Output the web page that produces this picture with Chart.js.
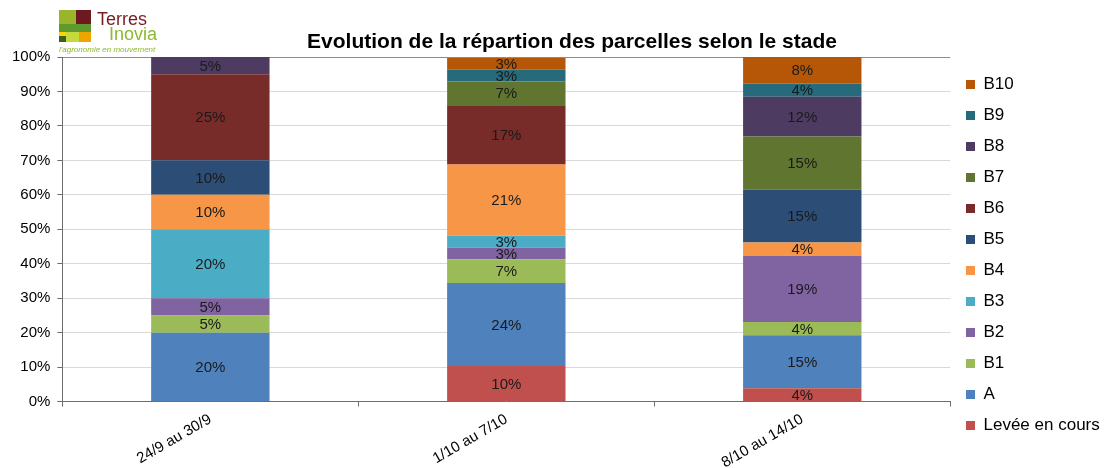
<!DOCTYPE html>
<html>
<head>
<meta charset="utf-8">
<script src="https://cdn.jsdelivr.net/npm/chart.js@4/dist/chart.umd.min.js"></script>
<style>
  body { margin: 0; background: #fff; }
  .chart { width: 1108px; height: 468px; }
</style>
</head>
<body>
<div class="chart"><canvas id="myChart" width="1108" height="468"></canvas></div>
<script>
const labels = ["24/9 au 30/9", "1/10 au 7/10", "8/10 au 14/10"];

// share of fields per stage, in %
const levee = [0, 10.3, 3.85];
const stadeA = [20, 24.1, 15.4];
const b1 = [5, 6.9, 3.85];
const b2 = [5, 3.4, 19.2];
const b3 = [20, 3.4, 0];
const b4 = [10, 20.7, 3.85];
const b5 = [10, 0, 15.4];
const b6 = [25, 17.2, 0];
const b7 = [0, 6.9, 15.4];
const b8 = [5, 0, 11.5];
const b9 = [0, 3.4, 3.85];
const b10 = [0, 3.4, 7.7];

const yTicks = [0, 10, 20, 30, 40, 50, 60, 70, 80, 90, 100];

const colors = {
    levee: "#C0504D",
    a: "#4F81BD",
    b1: "#9BBB59",
    b2: "#8064A2",
    b3: "#4BACC6",
    b4: "#F79646",
    b5: "#2C4D75",
    b6: "#772C2A",
    b7: "#5F7530",
    b8: "#4D3B62",
    b9: "#276A7C",
    b10: "#B65708"
};

const series = [
    ["Levée en cours", levee, colors.levee],
    ["A", stadeA, colors.a],
    ["B1", b1, colors.b1],
    ["B2", b2, colors.b2],
    ["B3", b3, colors.b3],
    ["B4", b4, colors.b4],
    ["B5", b5, colors.b5],
    ["B6", b6, colors.b6],
    ["B7", b7, colors.b7],
    ["B8", b8, colors.b8],
    ["B9", b9, colors.b9],
    ["B10", b10, colors.b10]
];

const FONT = "'Liberation Sans', Arial, sans-serif";

// values written in the middle of each segment
const barLabels = {
    id: "barLabels",
    afterDatasetsDraw(chart) {
        const ctx = chart.ctx;
        ctx.save();
        ctx.font = "15px " + FONT;
        ctx.fillStyle = "#1a1a1a";
        ctx.textAlign = "center";
        ctx.textBaseline = "middle";
        chart.data.datasets.forEach((ds, i) => {
            const meta = chart.getDatasetMeta(i);
            meta.data.forEach((bar, j) => {
                const v = ds.data[j];
                if (!v) return;
                const mid = (bar.y + bar.base) / 2;
                ctx.fillText(Math.round(v) + "%", bar.x, mid + 1);
            });
        });
        ctx.restore();
    }
};

// move the legend column to where the reference has it
const legendPlace = {
    id: "legendPlace",
    afterLayout(chart) {
        const lg = chart.legend;
        const dx = 966 - (lg.left + lg.options.labels.padding);
        lg.left += dx;
        lg.right += dx;
        const h = lg.bottom - lg.top;
        lg.top = 62;
        lg.bottom = lg.top + h;
    }
};

// title and logo in the top padding
const header = {
    id: "header",
    afterDraw(chart) {
        const ctx = chart.ctx;
        ctx.save();
        ctx.font = "bold 21px " + FONT;
        ctx.fillStyle = "#000";
        ctx.textAlign = "center";
        ctx.textBaseline = "middle";
        ctx.fillText("Evolution de la répartion des parcelles selon le stade", 572, 42);

        // logo blocks
        ctx.fillStyle = "#9bb52a"; ctx.fillRect(59, 10, 17, 14);
        ctx.fillStyle = "#6d1a1e"; ctx.fillRect(76, 10, 15, 14);
        ctx.fillStyle = "#5f9a2e"; ctx.fillRect(59, 24, 32, 8);
        ctx.fillStyle = "#ffd200"; ctx.fillRect(59, 32, 7, 4);
        ctx.fillStyle = "#c5d93a"; ctx.fillRect(66, 32, 13, 10);
        ctx.fillStyle = "#f0a400"; ctx.fillRect(79, 32, 12, 10);
        ctx.fillStyle = "#3e5f1e"; ctx.fillRect(59, 36, 7, 6);

        ctx.textAlign = "left";
        ctx.textBaseline = "alphabetic";
        ctx.font = "18px " + FONT;
        ctx.fillStyle = "#7a1c24";
        ctx.fillText("Terres", 97, 25);
        ctx.fillStyle = "#8db92e";
        ctx.fillText("Inovia", 109, 40);
        ctx.font = "italic 8px " + FONT;
        ctx.fillText("l'agronomie en mouvement", 59, 52);
        ctx.restore();
    }
};

const ctx = document.getElementById("myChart").getContext("2d");

const data = {
    labels: labels,
    datasets: series.map(([label, values, color]) => ({
        label: label,
        data: values,
        backgroundColor: color,
        borderWidth: 0,
        barPercentage: 0.4,
        categoryPercentage: 1.0
    }))
};

const config = {
    type: "bar",
    data: data,
    plugins: [barLabels, header, legendPlace],
    options: {
        responsive: false,
        animation: false,
        layout: { padding: { top: 57, left: 5, right: 0, bottom: 0 } },
        plugins: {
            title: { display: false },
            tooltip: { enabled: false },
            legend: {
                position: "right",
                align: "start",
                reverse: true,
                labels: {
                    boxWidth: 9,
                    boxHeight: 9,
                    padding: 14,
                    color: "#000",
                    font: { family: FONT, size: 17 }
                }
            }
        },
        scales: {
            x: {
                stacked: true,
                afterFit(axis) {
                    // labels may run to the very bottom edge, like the reference
                    axis.height -= 8;
                },
                grid: { display: true, drawOnChartArea: false, offset: true, color: "#6e6e6e", tickLength: 5 },
                border: { color: "#6e6e6e", width: 1 },
                ticks: {
                    color: "#000",
                    font: { family: FONT, size: 15 },
                    minRotation: 30,
                    maxRotation: 30,
                    padding: 4
                }
            },
            y: {
                stacked: true,
                min: 0,
                max: 100,
                afterBuildTicks(axis) {
                    axis.ticks = yTicks.map(v => ({ value: v }));
                },
                grid: {
                    color: c => (c.tick && c.tick.value === 100 ? "#8c8c8c" : "#d9d9d9"),
                    tickLength: 5,
                    tickColor: "#6e6e6e"
                },
                border: { color: "#6e6e6e", width: 1 },
                ticks: {
                    color: "#000",
                    font: { family: FONT, size: 15 },
                    padding: 7,
                    callback: v => v + "%"
                }
            }
        }
    }
};

const myChart = new Chart(ctx, config);
</script>
</body>
</html>
